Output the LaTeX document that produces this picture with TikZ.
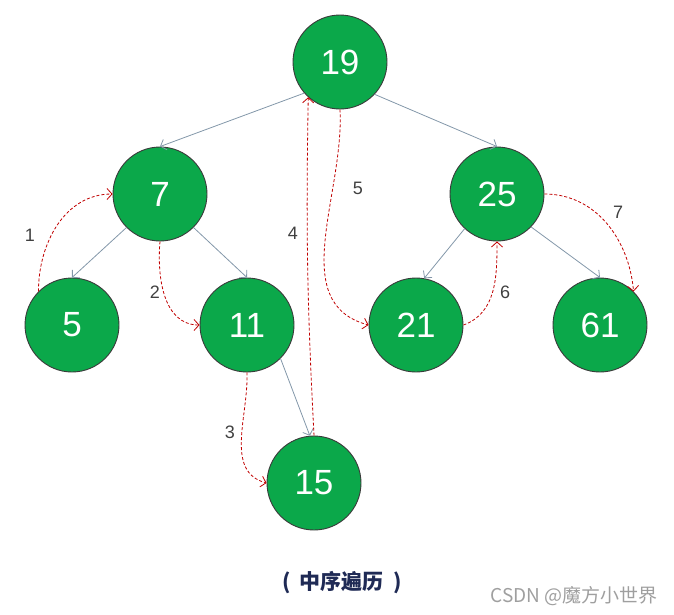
\documentclass[tikz,border=0pt]{standalone}
\usepackage{fontspec}
\setmainfont{Liberation Sans}
\newfontfamily\cjkfont{Noto Sans CJK SC}
\usetikzlibrary{arrows.meta}
\definecolor{leafgreen}{HTML}{0BA84A}
\definecolor{rimgray}{HTML}{3A3A3A}
\definecolor{edgegray}{HTML}{8397A9}
\definecolor{walkred}{HTML}{C00000}
\definecolor{stepgray}{HTML}{404040}
\definecolor{navy}{HTML}{1F2A55}
\tikzset{treenode/.style={circle,draw=rimgray,fill=leafgreen,line width=0.9pt,
  minimum size=94pt,inner sep=0pt,text=white,font=\fontsize{35}{40}\selectfont},
  branch/.style={-{Straight Barb[length=5pt,width=11pt]},draw=edgegray,line width=0.8pt},
  walk/.style={-{Straight Barb[length=5pt,width=11pt]},draw=walkred,line width=0.8pt,
  dash pattern=on 3pt off 2pt},
  stepno/.style={text=stepgray,font=\fontsize{18}{21}\selectfont}}

\begin{document}
\begin{tikzpicture}[x=1pt,y=1pt]
\useasboundingbox (0,0) rectangle (674,-614);
\node[treenode] (n19) at (340,-62) {19};
\node[treenode] (n7) at (160,-194) {7};
\node[treenode] (n25) at (497,-194) {25};
\node[treenode] (n5) at (72,-325) {5};
\node[treenode] (n11) at (247,-325) {11};
\node[treenode] (n21) at (416,-325) {21};
\node[treenode] (n61) at (600,-325) {61};
\node[treenode] (n15) at (314,-483) {15};
% tree
\draw[branch] (n19.221)--(n7.north);\draw[branch] (n19.317)--(n25.north);
\draw[branch] (n7.225)--(n5.north);\draw[branch] (n7.315)--(n11.north);
\draw[branch] (n25.227)--(n21.80);\draw[branch] (n25.316)--(n61.north);
\draw[branch] (n11.315)--(n15.95);
% in-order walk
\draw[walk] (n5.135) to[out=90,in=180] (n7.west);
\draw[walk] (n7.south) to[out=-95,in=180] (n11.west);
\draw[walk] (n11.south) to[out=-88,in=165] (n15.west);
\draw[walk] (n15.north) to[bend left=2] (n19.228);
\draw[walk] (n19.south) to[out=-87,in=165] (n21.west);
\draw[walk] (n21.east) to[out=20,in=-90] (n25.south);
\draw[walk] (n25.east) to[out=0,in=95] (n61.45);
\node[stepno] (s1) at (30,-235) {1};
\node[stepno] (s2) at (155,-292) {2};
\node[stepno] (s3) at (230,-432) {3};
\node[stepno] (s4) at (293,-233) {4};
\node[stepno] (s5) at (358,-188) {5};
\node[stepno] (s6) at (505,-292) {6};
\node[stepno] (s7) at (618,-212) {7};
\node[text=navy,font=\cjkfont\bfseries\fontsize{21}{24}\selectfont] (title) at (342,-583) {(\hspace{9pt}中序遍历\hspace{9pt})};
\node[text=gray!75,font=\cjkfont\fontsize{19}{22}\selectfont] (mark) at (574,-596) {CSDN @魔方小世界};
\end{tikzpicture}
\end{document}
